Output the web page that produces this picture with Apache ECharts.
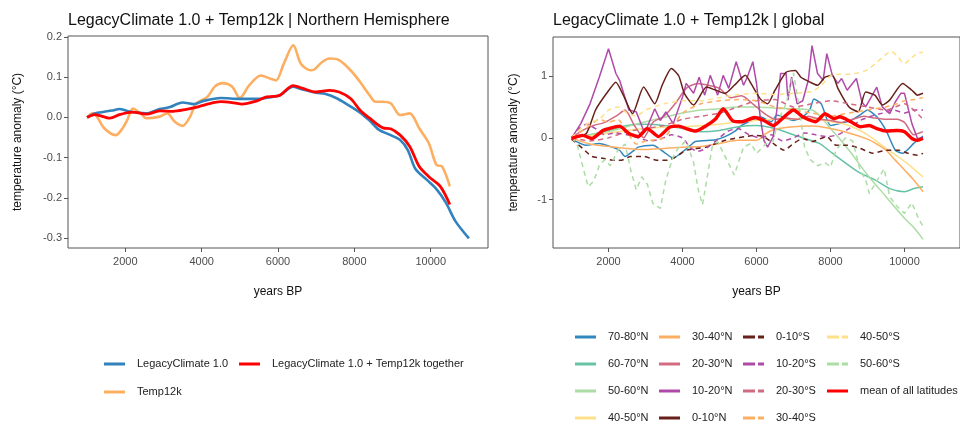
<!DOCTYPE html>
<html>
<head>
<meta charset="utf-8">
<script src="https://cdn.jsdelivr.net/npm/echarts@6/dist/echarts.min.js"></script>
<style>html,body{margin:0;padding:0;background:#fff}#c{width:960px;height:424px}</style>
</head>
<body>
<div id="c"></div>
<script>
// ---------- data (years BP, anomaly °C) ----------
const xTicks = [2000, 4000, 6000, 8000, 10000];
const yTicksLeft = [-0.3, -0.2, -0.1, 0, 0.1, 0.2];
const yTicksRight = [-1, 0, 1];

// Left panel: Northern Hemisphere
const legacyNH = [[1000,0.0],[1200,0.010],[1450,0.014],[1650,0.017],[1850,0.021],[2050,0.016],[2300,0.012],[2550,0.010],[2900,0.021],[3150,0.025],[3500,0.037],[3800,0.033],[4050,0.041],[4500,0.048],[5000,0.046],[5500,0.046],[5850,0.051],[6050,0.055],[6400,0.076],[6650,0.069],[7000,0.061],[7250,0.058],[7550,0.047],[7800,0.033],[8150,0.012],[8400,-0.008],[8650,-0.031],[8950,-0.044],[9200,-0.056],[9400,-0.081],[9600,-0.128],[9900,-0.155],[10150,-0.178],[10400,-0.212],[10650,-0.258],[11000,-0.300]];
const togetherNH = [[1000,0],[1200,0.007],[1600,-0.002],[1850,0.007],[2200,0.013],[2550,0.008],[2900,0.016],[3250,0.015],[3600,0.020],[3850,0.025],[4150,0.033],[4500,0.039],[4850,0.036],[5050,0.033],[5450,0.041],[5700,0.051],[5900,0.052],[6050,0.055],[6400,0.079],[6650,0.072],[7000,0.063],[7350,0.067],[7600,0.063],[7900,0.047],[8150,0.018],[8400,-0.002],[8750,-0.026],[8950,-0.028],[9200,-0.044],[9450,-0.072],[9700,-0.122],[9950,-0.147],[10250,-0.171],[10500,-0.216]];
const temp12kNH = [[1000,0],[1150,0.010],[1250,0.003],[1450,-0.027],[1750,-0.044],[1900,-0.031],[2050,-0.007],[2200,0.022],[2400,0.010],[2550,-0.002],[2900,0.002],[3100,0.010],[3300,-0.011],[3500,-0.021],[3700,0.002],[3850,0.034],[4150,0.051],[4350,0.077],[4550,0.085],[4800,0.076],[5000,0.048],[5250,0.080],[5550,0.104],[5800,0.096],[5950,0.092],[6150,0.133],[6400,0.179],[6600,0.133],[6850,0.117],[6950,0.119],[7150,0.137],[7350,0.146],[7600,0.142],[7900,0.117],[8150,0.088],[8400,0.055],[8550,0.039],[8700,0.039],[8950,0.035],[9200,0.006],[9450,0.010],[9700,-0.027],[9950,-0.064],[10150,-0.118],[10300,-0.122],[10500,-0.171]];

// Right panel: latitude bands
const lat7080N = [[1000,-0.02],[1400,-0.12],[1750,-0.09],[2100,-0.15],[2300,-0.2],[2450,-0.30],[2650,-0.22],[2800,-0.15],[3200,-0.12],[3500,-0.23],[3750,-0.33],[3950,-0.25],[4200,-0.13],[4350,-0.06],[4900,-0.03],[5150,0.02],[5400,0.10],[5600,0.20],[5850,0.28],[6100,0.34],[6400,0.26],[6550,0.37],[7000,0.28],[7250,0.34],[7450,0.47],[7550,0.63],[7750,0.55],[8000,0.20],[8250,0.23],[8550,0.28],[8800,0.37],[9000,0.45],[9250,0.34],[9500,0.12],[9750,-0.20],[9950,-0.25],[10250,-0.09],[10500,0.03]];
const lat6070N = [[1000,0],[1500,0.05],[2000,0.12],[2500,0.2],[3000,0.22],[3500,0.2],[4000,0.15],[4500,0.1],[5000,0.12],[5500,0.18],[6000,0.2],[6500,0.15],[7000,0.05],[7450,-0.04],[7700,-0.09],[7950,-0.2],[8300,-0.36],[8750,-0.55],[9200,-0.68],[9600,-0.82],[10000,-0.87],[10250,-0.82],[10500,-0.79]];
const lat5060N = [[1000,0],[1500,0.05],[2000,0.10],[2500,0.18],[3000,0.26],[3500,0.33],[4000,0.40],[4500,0.45],[5000,0.47],[5500,0.50],[6000,0.50],[6500,0.48],[7000,0.47],[7500,0.45],[8000,0.15],[8500,-0.2],[9000,-0.6],[9500,-0.95],[10000,-1.3],[10250,-1.45],[10500,-1.64]];
const lat4050N = [[1000,0],[1500,0.03],[2000,0.08],[2500,0.12],[3000,0.15],[3500,0.17],[4000,0.18],[4500,0.2],[5000,0.22],[5500,0.26],[6000,0.28],[6500,0.3],[7000,0.31],[7500,0.31],[8000,0.26],[8500,0.2],[9000,0.05],[9500,-0.17],[10000,-0.38],[10500,-0.63]];
const lat3040N = [[1000,0],[1500,-0.10],[2000,-0.14],[2500,-0.17],[3000,-0.19],[3500,-0.17],[4000,-0.15],[4500,-0.14],[5000,-0.09],[5500,-0.04],[6000,-0.04],[6250,0.07],[6500,0.14],[7000,0.18],[7500,0.19],[8000,0.15],[8500,0.08],[9000,-0.02],[9250,-0.1],[9500,-0.2],[9750,-0.36],[10000,-0.52],[10250,-0.68],[10500,-0.87]];
const lat2030N = [[1000,0],[1300,0.12],[1600,0.20],[1900,0.25],[2200,0.35],[2450,0.45],[2700,0.20],[2950,0.0],[3200,0.25],[3500,0.35],[3800,0.55],[4100,0.80],[4400,0.88],[4700,0.85],[5000,0.80],[5300,0.65],[5600,0.68],[5900,0.55],[6200,0.40],[6500,0.30],[6800,0.32],[7100,0.30],[7400,0.35],[7700,0.30],[8000,0.28],[8300,0.25],[8600,0.30],[8900,0.35],[9200,0.32],[9500,0.30],[9800,0.30],[10000,0.25],[10250,0.05],[10500,0.1]];
const lat1020N = [[1000,-0.01],[1250,0.23],[1500,0.55],[1750,0.98],[2000,1.44],[2200,1.04],[2300,0.93],[2550,0.45],[2750,0.42],[2950,0.12],[3050,0.18],[3250,0.47],[3400,0.28],[3550,0.42],[3750,0.23],[4000,0.66],[4100,0.88],[4300,0.72],[4450,0.98],[4600,0.69],[4750,1.01],[4950,0.69],[5100,1.01],[5250,0.80],[5450,1.23],[5650,0.85],[5750,0.98],[5900,1.23],[6000,0.88],[6100,0.34],[6200,-0.04],[6300,-0.15],[6450,0.02],[6550,0.45],[6650,1.04],[6800,1.04],[6850,0.61],[6950,0.98],[7100,0.55],[7250,0.60],[7400,0.93],[7500,1.49],[7650,1.04],[7800,0.93],[7900,1.36],[8050,1.01],[8200,0.88],[8300,0.96],[8450,0.77],[8700,0.96],[8850,0.58],[8950,0.50],[9100,0.66],[9250,0.82],[9400,0.50],[9600,0.39],[9750,0.58],[9900,0.72],[10000,0.72],[10200,0.23],[10350,-0.01],[10500,0.0]];
const lat010N = [[1000,-0.01],[1400,0.07],[1650,0.45],[1950,0.72],[2200,0.90],[2400,0.69],[2650,0.39],[2950,0.82],[3250,0.55],[3450,0.85],[3700,1.12],[3900,1.0],[4050,0.72],[4300,0.53],[4650,0.82],[4900,0.77],[5150,0.72],[5400,0.85],[5700,1.01],[5850,0.88],[6100,0.63],[6300,0.55],[6500,0.77],[6800,1.06],[7050,1.09],[7200,0.98],[7450,0.90],[7650,0.85],[7850,0.98],[8050,1.01],[8200,0.80],[8500,0.50],[8750,0.42],[8950,0.74],[9200,0.69],[9400,0.53],[9600,0.61],[9950,0.88],[10200,0.77],[10350,0.69],[10500,0.72]];
const lat010S = [[1000,-0.02],[1300,-0.17],[1550,-0.30],[1850,-0.33],[2100,-0.36],[2350,-0.36],[2600,-0.30],[2950,-0.30],[3300,-0.36],[3600,-0.36],[3850,-0.30],[4100,-0.20],[4650,-0.15],[4900,-0.09],[5150,-0.04],[5400,-0.01],[5700,0.02],[5950,0.04],[6200,0.02],[6450,-0.09],[6750,-0.20],[7000,-0.09],[7250,-0.01],[7500,-0.06],[7900,0.02],[8150,-0.12],[8450,-0.12],[8800,-0.17],[9150,-0.25],[9500,-0.20],[9850,-0.20],[10100,-0.25],[10350,-0.28],[10500,-0.25]];
const lat1020S = [[1000,0],[1200,0.15],[1400,0.22],[1650,0.15],[1900,0.05],[2200,0.08],[2500,0.05],[2800,0.0],[3100,-0.05],[3400,-0.02],[3700,0.05],[4000,0.0],[4200,-0.15],[4400,-0.22],[4600,-0.18],[4900,-0.05],[5200,0.1],[5500,0.15],[5800,0.05],[6100,0.0],[6400,0.05],[6700,-0.05],[7000,0.0],[7300,0.08],[7600,0.05],[7900,0.02],[8200,0.05],[8500,0.15],[8800,0.28],[9100,0.35],[9400,0.40],[9700,0.45],[10000,0.40],[10250,0.45],[10500,0.45]];
const lat2030S = [[1000,0],[1500,-0.05],[2000,0.0],[2500,0.1],[3000,0.15],[3500,0.2],[4000,0.3],[4500,0.35],[5000,0.4],[5500,0.5],[6000,0.6],[6500,0.62],[7000,0.5],[7500,0.55],[8000,0.6],[8500,0.55],[9000,0.5],[9500,0.45],[10000,0.55],[10500,0.3]];
const lat3040S = [[1000,0],[1250,0.1],[1500,0.2],[1750,0.3],[2000,0.25],[2250,0.3],[2500,0.1],[2750,-0.1],[3000,-0.05],[3500,0.0],[4000,0.4],[4500,0.55],[5000,0.6],[5500,0.62],[6000,0.6],[6500,0.5],[7000,0.45],[7500,0.4],[8000,0.35],[8500,0.4],[9000,0.45],[9500,0.5],[9800,0.55],[10000,0.6],[10250,0.62],[10500,0.65]];
const lat4050S = [[1000,0],[1250,0.15],[1500,0.25],[1750,0.3],[2000,0.45],[2250,0.5],[2500,0.4],[2750,0.35],[3000,0.45],[3500,0.55],[4000,0.6],[4500,0.6],[5000,0.65],[5500,0.7],[6000,0.72],[6500,0.7],[7000,0.72],[7500,0.75],[7750,0.85],[8000,1.0],[8250,1.03],[8500,1.03],[8750,1.05],[9000,1.1],[9250,1.22],[9500,1.35],[9650,1.40],[9800,1.32],[10000,1.2],[10200,1.3],[10400,1.38],[10500,1.38]];
const lat5060S = [[1000,0],[1150,-0.1],[1300,-0.45],[1450,-0.79],[1600,-0.70],[1750,-0.45],[1900,-0.35],[2050,-0.45],[2250,-0.20],[2450,-0.10],[2600,-0.52],[2750,-0.84],[2900,-0.63],[3050,-0.75],[3200,-1.06],[3400,-1.14],[3550,-0.68],[3750,-0.30],[3900,-0.15],[4100,-0.05],[4300,-0.40],[4430,-0.85],[4540,-1.08],[4650,-0.70],[4800,-0.15],[4950,-0.06],[5150,-0.30],[5400,-0.60],[5650,-0.15],[5850,-0.09],[6000,-0.25],[6250,-0.10],[6450,-0.05],[6600,0.30],[6800,0.55],[7000,1.05],[7150,0.50],[7300,-0.15],[7450,-0.35],[7650,-0.45],[7850,-0.40],[8000,-0.47],[8150,-0.20],[8400,0.0],[8600,-0.05],[8800,-0.52],[8950,-0.68],[9050,-0.90],[9250,-0.70],[9450,-0.50],[9600,-0.95],[9800,-1.11],[10000,-1.22],[10200,-1.05],[10400,-1.33],[10500,-1.43]];
const meanAll = [[1000,-0.01],[1300,0.04],[1550,-0.01],[1850,0.12],[2000,0.15],[2300,0.19],[2550,0.07],[2800,0.02],[3050,0.15],[3350,0.02],[3650,0.17],[3900,0.19],[4100,0.15],[4350,0.11],[4650,0.20],[4900,0.31],[5100,0.47],[5350,0.28],[5600,0.26],[5950,0.33],[6200,0.28],[6450,0.20],[6750,0.34],[7000,0.45],[7250,0.34],[7600,0.26],[7850,0.39],[8100,0.31],[8250,0.34],[8550,0.26],[8800,0.18],[9050,0.20],[9250,0.15],[9500,0.11],[9800,0.12],[10000,0.10],[10200,-0.01],[10350,-0.04],[10500,-0.01]];

// ---------- styling ----------
const FONT = "'Liberation Sans', Arial, sans-serif";
const C = {
  blue:'#3182bd', red:'#ff0000', orange:'#fdae61',
  b7080:'#3288bd', b6070:'#66c2a5', b5060:'#abdda4', b4050:'#fee08b',
  b3040:'#fdae61', b2030:'#d26a82', b1020:'#b04aa8', b010:'#67201a'
};
const DASH = [5, 4];
const ICON_SOLID = 'path://M0,0H21V3H0Z';
const ICON_DASH = 'path://M0,0H12V3H0Z M15,0H21V3H15Z';

function lineSeries(name, data, color, grid, width, dashed, smooth, z) {
  return {
    type:'line', name, data, xAxisIndex:grid, yAxisIndex:grid,
    symbol:'none', showSymbol:false, smooth: smooth, z: z || 2,
    lineStyle:{color, width, type: dashed ? DASH : 'solid', opacity: 1},
    itemStyle:{color}, emphasis:{disabled:true}
  };
}

const series = [
  lineSeries('Temp12k', temp12kNH, C.orange, 0, 2.6, false, 0.3, 2),
  lineSeries('LegacyClimate 1.0', legacyNH, C.blue, 0, 2.6, false, 0.3, 3),
  lineSeries('LegacyClimate 1.0 + Temp12k together', togetherNH, C.red, 0, 2.8, false, 0.3, 4),

  lineSeries('70-80°N', lat7080N, C.b7080, 1, 1.5, false, 0.2),
  lineSeries('60-70°N', lat6070N, C.b6070, 1, 1.5, false, 0.3),
  lineSeries('50-60°N', lat5060N, C.b5060, 1, 1.5, false, 0.3),
  lineSeries('40-50°N', lat4050N, C.b4050, 1, 1.5, false, 0.3),
  lineSeries('30-40°N', lat3040N, C.b3040, 1, 1.5, false, 0.3),
  lineSeries('20-30°N', lat2030N, C.b2030, 1, 1.5, false, 0.2),
  lineSeries('10-20°N', lat1020N, C.b1020, 1, 1.5, false, 0),
  lineSeries('0-10°N', lat010N, C.b010, 1, 1.5, false, 0.2),
  lineSeries('0-10°S', lat010S, C.b010, 1, 1.5, true, 0.2),
  lineSeries('10-20°S', lat1020S, C.b1020, 1, 1.5, true, 0.2),
  lineSeries('20-30°S', lat2030S, C.b2030, 1, 1.5, true, 0.2),
  lineSeries('30-40°S', lat3040S, C.b3040, 1, 1.5, true, 0.2),
  lineSeries('40-50°S', lat4050S, C.b4050, 1, 1.5, true, 0.2),
  lineSeries('50-60°S', lat5060S, C.b5060, 1, 1.5, true, 0),
  lineSeries('mean of all latitudes', meanAll, C.red, 1, 3.4, false, 0.2, 5)
];

const axisLabelStyle = {color:'#4d4d4d', fontSize:11, fontFamily:FONT};
const nameStyle = {color:'#111', fontSize:12, fontFamily:FONT};
const tickStyle = {lineStyle:{color:'#555', width:1}, length:4, inside:false};

function xAxis(grid) {
  return {
    type:'value', gridIndex:grid, min:500, max:11500, position:'bottom',
    name:'years BP', nameLocation:'middle', nameGap:38, nameTextStyle:nameStyle,
    axisLine:{show:false, onZero:false}, splitLine:{show:false},
    axisTick:Object.assign({show:true, customValues:xTicks}, tickStyle),
    axisLabel:Object.assign({customValues:xTicks, margin:8, formatter:v=>String(v)}, axisLabelStyle)
  };
}
function yAxis(grid, min, max, ticks, fmt, gap) {
  return {
    type:'value', gridIndex:grid, min, max, position:'left',
    name:'temperature anomaly (°C)', nameLocation:'middle', nameGap:gap, nameRotate:90, nameTextStyle:nameStyle,
    axisLine:{show:false, onZero:false}, splitLine:{show:false},
    axisTick:Object.assign({show:true, customValues:ticks}, tickStyle),
    axisLabel:Object.assign({customValues:ticks, margin:6, formatter:fmt}, axisLabelStyle)
  };
}

function legend(left, top, items, height) {
  return {
    orient:'vertical', left, top, height, padding:0,
    itemWidth:21, itemHeight:3, itemGap:13,
    textStyle:{color:'#222', fontSize:11, fontFamily:FONT, padding:[0,0,0,7], lineHeight:14, height:14},
    selectedMode:false,
    data: items.map(([name, dashed]) => ({name, icon: dashed ? ICON_DASH : ICON_SOLID}))
  };
}

const option = {
  animation:false,
  backgroundColor:'#fff',
  title:[
    {text:'LegacyClimate 1.0 + Temp12k | Northern Hemisphere', left:63, top:8,
     textStyle:{fontSize:16, fontWeight:'normal', color:'#111', fontFamily:FONT}},
    {text:'LegacyClimate 1.0 + Temp12k | global', left:548, top:8,
     textStyle:{fontSize:16, fontWeight:'normal', color:'#111', fontFamily:FONT}}
  ],
  grid:[
    {left:68, top:36, width:420, height:212, show:true, borderColor:'#555', borderWidth:1, backgroundColor:'transparent'},
    {left:553, top:37, width:418, height:211, show:true, borderColor:'#555', borderWidth:1, backgroundColor:'transparent'}
  ],
  xAxis:[xAxis(0), xAxis(1)],
  yAxis:[
    yAxis(0, -0.324, 0.202, yTicksLeft, v=>v.toFixed(1), 44),
    yAxis(1, -1.78, 1.63, yTicksRight, v=>String(v), 33)
  ],
  legend:[
    Object.assign(legend(104, 357, [['LegacyClimate 1.0',false],['Temp12k',false]], 60), {itemGap:14}),
    legend(239, 357, [['LegacyClimate 1.0 + Temp12k together',false]], 30),
    legend(575, 330, [['70-80°N',false],['60-70°N',false],['50-60°N',false],['40-50°N',false]], 110),
    legend(659, 330, [['30-40°N',false],['20-30°N',false],['10-20°N',false],['0-10°N',false]], 110),
    legend(743, 330, [['0-10°S',true],['10-20°S',true],['20-30°S',true],['30-40°S',true]], 110),
    legend(827, 330, [['40-50°S',true],['50-60°S',true],['mean of all latitudes',false]], 110)
  ],
  series
};

const chart = echarts.init(document.getElementById('c'), null, {renderer:'canvas'});
chart.setOption(option);
</script>
</body>
</html>
